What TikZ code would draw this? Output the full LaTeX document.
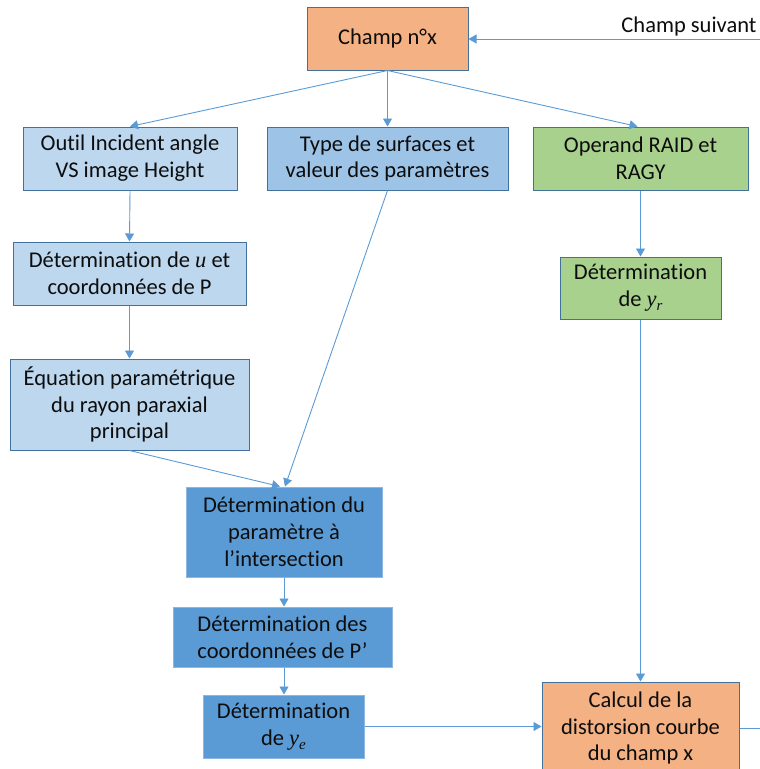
\documentclass[tikz,border=0pt]{standalone}
\usepackage{fontspec}
\setmainfont[Ligatures=NoCommon]{Carlito}
\newfontfamily\mathserif{Liberation Serif}
\newcommand{\mvar}[1]{{\mathserif\itshape #1}}
\newcommand{\msub}[2]{{\mathserif\itshape #1}\raisebox{-4pt}{\fontsize{15}{15}\selectfont\mathserif\itshape #2}}
\usetikzlibrary{arrows.meta}
\definecolor{orangefill}{HTML}{F4B183}
\definecolor{lightblue}{HTML}{BDD7EE}
\definecolor{midblue}{HTML}{9DC3E6}
\definecolor{darkblue}{HTML}{5B9BD5}
\definecolor{greenfill}{HTML}{A9D18E}
\definecolor{edgeblue}{HTML}{41719C}
\definecolor{lineblue}{HTML}{5B9BD5}
\definecolor{paleedge}{HTML}{8DB6E2}
\definecolor{txt}{HTML}{0D0D0D}
\tikzset{
  box/.style={draw=edgeblue, line width=1pt, text=txt, align=center, inner sep=0pt,
    font=\fontsize{22.5}{26.8}\selectfont},
  bluebox/.style={box, fill=darkblue, draw=paleedge},
  conn/.style={draw=lineblue, line width=0.9pt, -{Triangle[length=8pt,width=9pt]}},
  plain/.style={draw=lineblue, line width=0.9pt}
}
\begin{document}
\begin{tikzpicture}[x=1pt,y=-1pt]
\useasboundingbox (0,0) rectangle (760,769);
\clip (0,0) rectangle (760,769);
\node[box, fill=orangefill, minimum width=161pt, minimum height=63pt] (champ) at (387.5,38.5) {Champ n°x};
\node[box, fill=lightblue, minimum width=214pt, minimum height=63pt] (outil) at (130,158.5) {Outil Incident angle\\VS image Height};
\node[box, fill=midblue, minimum width=241pt, minimum height=63pt] (type) at (387.5,158.5) {Type de surfaces et\\valeur des paramètres};
\node[box, fill=greenfill, minimum width=215pt, minimum height=63pt] (operand) at (640.5,158.5) {Operand RAID et\\RAGY};
\node[box, fill=lightblue, minimum width=233pt, minimum height=63pt] (detu) at (129.5,273.5) {Détermination de \mvar{u} et\\coordonnées de P};
\node[box, fill=greenfill, minimum width=161pt, minimum height=62pt] (detyr) at (640.5,288) {Détermination\\de \msub{y}{r}};
\node[box, fill=lightblue, minimum width=239pt, minimum height=91pt] (equa) at (129.5,404.5) {Équation paramétrique\\du rayon paraxial\\principal};
\node[bluebox, minimum width=196pt, minimum height=90pt] (detparam) at (284,532) {Détermination du\\paramètre à\\l’intersection};
\node[bluebox, minimum width=219pt, minimum height=60pt] (detcoord) at (282.5,637) {Détermination des\\coordonnées de P’};
\node[bluebox, minimum width=161pt, minimum height=63pt] (detye) at (283.5,726.5) {Détermination\\de \msub{y}{e}};
\node[box, fill=orangefill, minimum width=197pt, minimum height=92pt] (calcul) at (640.5,728) {Calcul de la\\distorsion courbe\\du champ x};
\node[text=txt, font=\fontsize{22.5}{26.8}\selectfont, anchor=base, inner sep=0pt] (suivant) at (689,32) {Champ suivant};
\coordinate (inR) at (760,39);
\coordinate (outR) at (760,728);
\draw[conn] (inR) -- (champ.east |- inR);
\draw[conn] (champ.south) -- (outil.north);
\draw[conn] (champ.south) -- (type.north);
\draw[conn] (champ.south) -- ([xshift=-3pt]operand.north);
\draw[conn] (outil.south) -- (detu.north);
\draw[conn] (detu.south) -- (detu.south |- equa.north);
\draw[conn] (operand.south) -- (detyr.north);
\draw[conn] (type.south) -- ([xshift=1pt]detparam.north);
\draw[conn] (equa.south) -- ([xshift=-4pt]detparam.north);
\draw[conn] (detyr.south) -- (calcul.north);
\draw[conn] (detparam.south) -- (detparam.south |- detcoord.north);
\draw[conn] (detparam.south |- detcoord.south) -- (detparam.south |- detye.north);
\draw[conn] (detye.east) -- (calcul.west |- detye.east);
\draw[plain] (calcul.east) -- (outR);
\end{tikzpicture}
\end{document}
